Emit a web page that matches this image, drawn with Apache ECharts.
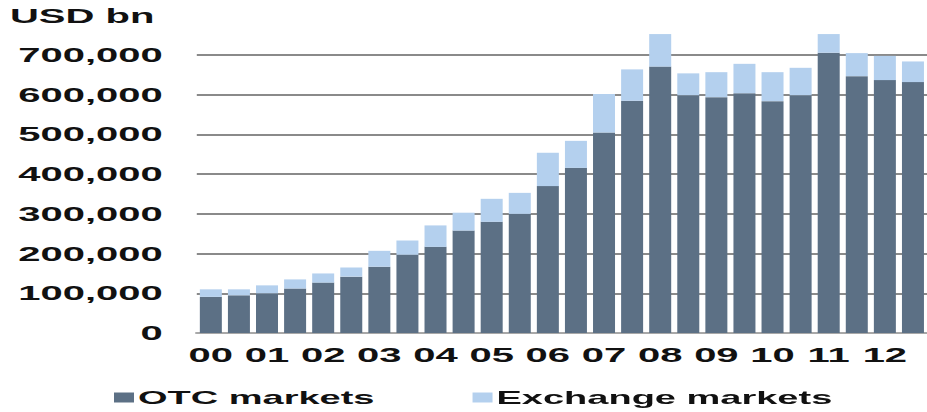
<!DOCTYPE html>
<html>
<head>
<meta charset="utf-8">
<script src="https://cdn.jsdelivr.net/npm/echarts@6/dist/echarts.min.js"></script>
<style>
html,body{margin:0;padding:0;background:#fff;overflow:hidden;width:927px;height:412px;}
#wrap{width:463.5px;height:412px;transform:scaleX(2);transform-origin:0 0;}
</style>
</head>
<body>
<div id="wrap"></div>
<script>
// Half-year periods, 2000 H1 .. 2012 H2
const periods = ['00H1','00H2','01H1','01H2','02H1','02H2','03H1','03H2','04H1','04H2','05H1','05H2','06H1','06H2','07H1','07H2','08H1','08H2','09H1','09H2','10H1','10H2','11H1','11H2','12H1','12H2'];
const yearLabels = ['00','01','02','03','04','05','06','07','08','09','10','11','12'];
// USD bn
const otcMarkets = [91000,95000,100000,112000,127000,142000,167000,197000,217000,258000,280000,300000,370000,416000,505000,585000,671000,599000,594000,604000,584000,599000,706000,647000,637000,632000];
const exchangeMarkets = [19000,15000,20000,23000,23000,23000,40000,36000,54000,45000,58000,53000,84000,68000,97000,79000,82000,55000,63000,74000,73000,69000,47000,58000,61000,52000];
const yTicks = [0,100000,200000,300000,400000,500000,600000,700000];

const font = '"Liberation Sans", Arial, sans-serif';
const chart = echarts.init(document.getElementById('wrap'), null, {renderer:'svg', width:463.5, height:412});
chart.setOption({
  animation:false,
  backgroundColor:'#ffffff',
  title:{
    text:'USD bn', left:5, top:6, padding:0,
    textStyle:{fontFamily:font, fontSize:20, fontWeight:'bold', color:'#111'}
  },
  legend:{
    left:57, top:388, padding:0, itemWidth:10, itemHeight:10, itemGap:49,
    icon:'rect',
    textStyle:{fontFamily:font, fontSize:19, fontWeight:'bold', color:'#111', padding:[0,0,0,-3]},
    data:['OTC markets','Exchange markets']
  },
  grid:{left:98.4, right:-4.9, top:15.4, bottom:79, containLabel:false},
  xAxis:{
    type:'category', data:periods, boundaryGap:true,
    axisLine:{show:true, lineStyle:{color:'#a8a8a8', width:2}},
    axisTick:{show:false},
    axisLabel:{
      interval:0, margin:12,
      fontFamily:font, fontSize:20, fontWeight:'bold', color:'#111',
      formatter:function(v, i){ return i % 2 === 0 ? yearLabels[i/2] : ''; }
    }
  },
  yAxis:{
    type:'value', min:0, max:800000, interval:100000,
    axisLine:{show:false}, axisTick:{show:false},
    splitLine:{show:true, showMaxLine:false, lineStyle:{color:'#8a8a8a', width:2}},
    axisLabel:{
      showMaxLabel:false, margin:17,
      fontFamily:font, fontSize:20, fontWeight:'bold', color:'#111',
      formatter:function(v){ return yTicks.indexOf(v) >= 0 ? v.toLocaleString('en-US') : ''; }
    }
  },
  series:[
    {name:'OTC markets', type:'bar', stack:'total', barWidth:11, data:otcMarkets, itemStyle:{color:'#5c7085'}},
    {name:'Exchange markets', type:'bar', stack:'total', barWidth:11, data:exchangeMarkets, itemStyle:{color:'#b4d0ee'}}
  ]
});
</script>
</body>
</html>
